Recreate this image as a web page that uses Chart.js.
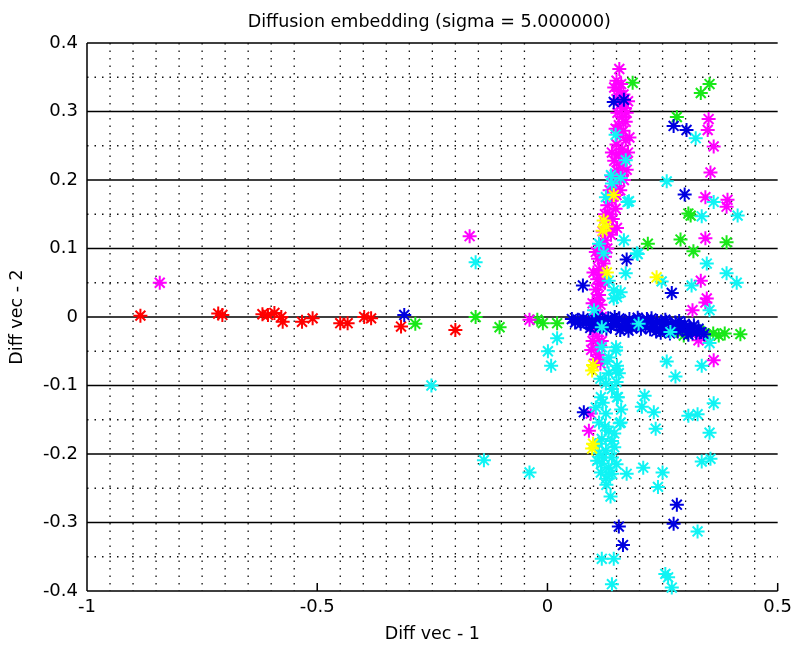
<!DOCTYPE html>
<html>
<head>
<meta charset="utf-8">
<script src="https://cdn.jsdelivr.net/npm/chart.js@4.4.1/dist/chart.umd.min.js"></script>
<style>
  html, body { margin: 0; padding: 0; background: #ffffff; }
  #c { display: block; }
</style>
</head>
<body>
<canvas id="c" width="798" height="652"></canvas>
<script>
// ---- Chart text ----
const chartTitle = 'Diffusion embedding (sigma = 5.000000)';
const xAxisTitle = 'Diff vec - 1';
const yAxisTitle = 'Diff vec - 2';

// ---- Ticks / grid ----
const xTickVals = [-1, -0.5, 0, 0.5];
const xTickLabels = ['-1', '-0.5', '0', '0.5'];
const yTickVals = [-0.4, -0.3, -0.2, -0.1, 0, 0.1, 0.2, 0.3, 0.4];
const yTickLabels = ['-0.4', '-0.3', '-0.2', '-0.1', '0', '0.1', '0.2', '0.3', '0.4'];
const xMinorGrid = [-0.95, -0.9, -0.85, -0.8, -0.75, -0.7, -0.65, -0.6, -0.55, -0.45, -0.4, -0.35, -0.3, -0.25, -0.2, -0.15, -0.1, -0.05, 0.05, 0.1, 0.15, 0.2, 0.25, 0.3, 0.35, 0.4, 0.45];
const yMinorGrid = [-0.35, -0.25, -0.15, -0.05, 0.05, 0.15, 0.25, 0.35];

// ---- Series (x, y) ----
const redPts = [
  [-0.884, 0.002], [-0.715, 0.005], [-0.706, 0.003], [-0.619, 0.004], [-0.607, 0.003], [-0.593, 0.006],
  [-0.578, 0.000], [-0.575, -0.007], [-0.533, -0.007], [-0.510, -0.002], [-0.450, -0.009], [-0.434, -0.009],
  [-0.398, 0.000], [-0.383, -0.002], [-0.318, -0.014], [-0.200, -0.019]
];

const greenPts = [
  [-0.287, -0.010], [-0.156, 0.000], [-0.104, -0.015], [-0.022, -0.004], [-0.010, -0.009], [0.021, -0.009],
  [0.185, 0.342], [0.352, 0.340], [0.333, 0.327], [0.281, 0.292], [0.306, 0.151], [0.311, 0.148],
  [0.289, 0.113], [0.389, 0.109], [0.317, 0.096], [0.218, 0.107],
  [0.280, -0.020], [0.296, -0.027], [0.312, -0.022], [0.330, -0.020], [0.345, -0.026], [0.360, -0.024],
  [0.372, -0.027], [0.385, -0.024], [0.419, -0.025]
];

const yellowPts = [
  [0.122, 0.141], [0.128, 0.132], [0.120, 0.126], [0.144, 0.178], [0.129, 0.065], [0.237, 0.058],
  [0.099, -0.070], [0.097, -0.078], [0.099, -0.185], [0.097, -0.192]
];

const magentaPts = [
  [0.156, 0.362], [0.150, 0.345], [0.160, 0.340], [0.145, 0.335], [0.155, 0.330], [0.165, 0.325], [0.150, 0.318],
  [0.175, 0.315], [0.158, 0.310], [0.168, 0.305], [0.152, 0.298], [0.172, 0.298], [0.162, 0.292], [0.170, 0.285],
  [0.155, 0.280], [0.148, 0.275], [0.165, 0.272], [0.158, 0.265], [0.178, 0.262], [0.170, 0.258], [0.150, 0.252],
  [0.162, 0.245], [0.175, 0.240], [0.140, 0.240], [0.155, 0.238], [0.168, 0.232], [0.145, 0.228], [0.158, 0.222],
  [0.172, 0.215], [0.150, 0.214], [0.162, 0.208], [0.140, 0.205], [0.166, 0.200], [0.152, 0.198], [0.145, 0.190],
  [0.158, 0.185], [0.135, 0.185], [0.150, 0.178], [0.140, 0.170], [0.130, 0.163], [0.148, 0.158], [0.135, 0.150],
  [0.125, 0.150], [0.142, 0.143], [0.151, 0.130], [0.140, 0.128], [0.128, 0.138], [0.120, 0.125], [0.138, 0.120],
  [0.125, 0.112], [0.115, 0.105], [0.130, 0.100], [0.105, 0.095], [0.118, 0.092], [0.125, 0.088], [0.110, 0.085],
  [0.122, 0.078], [0.112, 0.070], [0.100, 0.065], [0.118, 0.062], [0.108, 0.055], [0.125, 0.050], [0.115, 0.048],
  [0.105, 0.040], [0.112, 0.032], [0.108, 0.025], [0.098, 0.020], [0.115, 0.018], [0.105, 0.010], [0.110, 0.003],
  [0.118, 0.000], [0.102, -0.005], [0.095, -0.010], [0.112, -0.012], [0.100, -0.020], [0.108, -0.028],
  [0.098, -0.035], [0.118, -0.035], [0.110, -0.042], [0.095, -0.048], [0.112, -0.055], [0.105, -0.062],
  [0.115, -0.068],
  [0.094, -0.141], [0.090, -0.166],
  [-0.842, 0.050], [-0.169, 0.118], [-0.039, -0.004], [0.315, 0.010], [0.333, -0.029], [0.328, -0.034],
  [0.361, -0.063], [0.350, 0.289], [0.348, 0.273], [0.361, 0.249], [0.354, 0.211], [0.343, 0.175],
  [0.391, 0.171], [0.389, 0.161], [0.343, 0.115], [0.333, 0.053], [0.346, 0.027], [0.343, 0.021]
];

const bluePts = [
  [-0.311, 0.003], [0.144, 0.314], [0.166, 0.317], [0.274, 0.279], [0.302, 0.273], [0.298, 0.179],
  [0.172, 0.084], [0.077, 0.046], [0.270, 0.035], [0.079, -0.139], [0.281, -0.274], [0.274, -0.302],
  [0.155, -0.306], [0.164, -0.333],
  [0.053, -0.003], [0.060, -0.008], [0.066, -0.004], [0.072, -0.010], [0.078, -0.002], [0.084, -0.009],
  [0.090, -0.005], [0.096, -0.012], [0.102, -0.003], [0.108, -0.009], [0.114, -0.014], [0.120, -0.004],
  [0.126, -0.010], [0.132, -0.002], [0.138, -0.013], [0.144, -0.006], [0.150, -0.011], [0.156, -0.002],
  [0.162, -0.015], [0.167, -0.007], [0.172, -0.012], [0.178, -0.003], [0.183, -0.016], [0.188, -0.008],
  [0.193, -0.013], [0.198, -0.004], [0.203, -0.017], [0.208, -0.009], [0.213, -0.014], [0.218, -0.005],
  [0.223, -0.018], [0.228, -0.010], [0.233, -0.015], [0.238, -0.006], [0.243, -0.019], [0.248, -0.011],
  [0.253, -0.016], [0.258, -0.007], [0.263, -0.020], [0.268, -0.012], [0.273, -0.017], [0.278, -0.008],
  [0.283, -0.021], [0.288, -0.013], [0.293, -0.018], [0.298, -0.010], [0.303, -0.022], [0.308, -0.015],
  [0.313, -0.020], [0.318, -0.012], [0.323, -0.023], [0.328, -0.017], [0.334, -0.022], [0.340, -0.025],
  [0.093, -0.016], [0.128, -0.017], [0.158, -0.019], [0.176, -0.020], [0.196, -0.001], [0.216, -0.003],
  [0.236, -0.021], [0.256, -0.004], [0.286, -0.006], [0.306, -0.026], [0.146, 0.000], [0.110, 0.000],
  [0.226, -0.002], [0.266, -0.024], [0.246, -0.023]
];

const cyanPts = [
  [-0.156, 0.080], [-0.252, -0.100], [-0.138, -0.209], [-0.039, -0.227], [0.021, -0.031], [0.001, -0.050], [0.008, -0.071],
  [0.148, 0.266], [0.170, 0.229], [0.138, 0.207], [0.159, 0.203], [0.140, 0.195], [0.127, 0.175], [0.177, 0.169],
  [0.166, 0.112], [0.194, 0.093], [0.112, 0.107], [0.122, 0.093], [0.170, 0.064], [0.133, 0.053], [0.144, 0.039],
  [0.151, 0.029], [0.144, 0.027], [0.159, 0.036], [0.101, 0.010], [0.118, -0.015], [0.149, -0.044], [0.118, -0.044],
  [0.133, -0.059], [0.151, -0.071], [0.133, -0.082], [0.155, -0.082], [0.127, -0.097], [0.116, -0.117], [0.151, -0.117],
  [0.105, -0.132], [0.127, -0.141], [0.112, -0.154], [0.133, -0.166], [0.118, -0.178], [0.140, -0.181], [0.127, -0.195],
  [0.112, -0.199], [0.140, -0.205], [0.118, -0.214], [0.133, -0.220], [0.116, -0.227], [0.140, -0.229], [0.127, -0.236],
  [0.110, -0.185], [0.145, -0.190], [0.122, -0.205], [0.135, -0.230], [0.128, -0.245], [0.150, -0.215], [0.108, -0.210],
  [0.145, -0.170], [0.125, -0.160], [0.120, -0.125], [0.160, -0.135], [0.140, -0.105], [0.150, -0.095], [0.115, -0.090],
  [0.130, -0.065], [0.153, -0.117], [0.157, -0.155], [0.159, -0.154],
  [0.259, 0.198], [0.322, 0.261], [0.361, 0.168], [0.335, 0.147], [0.413, 0.148], [0.174, 0.168], [0.196, 0.092],
  [0.346, 0.078], [0.248, 0.052], [0.313, 0.046], [0.389, 0.064], [0.411, 0.050], [0.352, 0.010], [0.198, -0.010],
  [0.267, -0.022], [0.149, -0.049], [0.149, -0.078], [0.259, -0.065], [0.278, -0.087], [0.335, -0.071], [0.352, -0.038],
  [0.211, -0.115], [0.205, -0.131], [0.231, -0.139], [0.235, -0.163], [0.172, -0.229], [0.208, -0.220], [0.250, -0.227],
  [0.240, -0.248], [0.137, -0.262], [0.326, -0.313], [0.118, -0.353], [0.144, -0.353], [0.256, -0.375], [0.262, -0.380],
  [0.140, -0.390], [0.270, -0.395], [0.335, -0.211], [0.354, -0.207], [0.352, -0.169], [0.306, -0.144], [0.326, -0.142],
  [0.361, -0.126]
];

const FONT = '"DejaVu Sans", "Liberation Sans", Arial, sans-serif';

function toXY(list) { return list.map(p => ({ x: p[0], y: p[1] })); }

function ds(label, list, color, order) {
  return {
    label: label,
    data: toXY(list),
    pointStyle: 'star',
    pointRadius: 7,
    pointHoverRadius: 7,
    borderColor: color,
    backgroundColor: color,
    borderWidth: 2,
    showLine: false,
    clip: false,
    order: order
  };
}

const matlabPlugin = {
  id: 'matlabGrid',
  beforeDatasetsDraw(chart) {
    const { ctx, chartArea: a, scales: { x, y } } = chart;
    ctx.save();
    // dotted minor grid
    ctx.strokeStyle = '#111';
    ctx.lineWidth = 1.3;
    ctx.setLineDash([1.5, 6]);
    ctx.beginPath();
    xMinorGrid.forEach(v => {
      const px = x.getPixelForValue(v);
      ctx.moveTo(px, a.top); ctx.lineTo(px, a.bottom);
    });
    yMinorGrid.forEach(v => {
      const py = y.getPixelForValue(v);
      ctx.moveTo(a.left, py); ctx.lineTo(a.right, py);
    });
    ctx.stroke();
    // solid major lines
    ctx.setLineDash([]);
    ctx.strokeStyle = '#000';
    ctx.lineWidth = 1.5;
    ctx.beginPath();
    yTickVals.forEach(v => {
      const py = y.getPixelForValue(v);
      ctx.moveTo(a.left, py); ctx.lineTo(a.right, py);
    });
    ctx.moveTo(a.left, a.top); ctx.lineTo(a.left, a.bottom);
    xTickVals.forEach(v => {
      const px = x.getPixelForValue(v);
      ctx.moveTo(px, a.bottom); ctx.lineTo(px, a.bottom - 8);
    });
    ctx.stroke();
    ctx.restore();
  },
  afterDraw(chart) {
    const { ctx, chartArea: a } = chart;
    ctx.save();
    ctx.fillStyle = '#000';
    ctx.font = '17.5px ' + FONT;
    ctx.textAlign = 'center';
    ctx.textBaseline = 'alphabetic';
    ctx.fillText(chartTitle, (a.left + a.right) / 2 - 3, 27);
    ctx.restore();
  }
};

new Chart(document.getElementById('c'), {
  type: 'scatter',
  data: {
    datasets: [
      ds('yellow', yellowPts, '#ffff00', 1),
      ds('cyan', cyanPts, '#10f4f4', 2),
      ds('blue', bluePts, '#0000e0', 3),
      ds('magenta', magentaPts, '#ff00ff', 4),
      ds('green', greenPts, '#18e818', 5),
      ds('red', redPts, '#ff0000', 6)
    ]
  },
  options: {
    responsive: false,
    devicePixelRatio: 1,
    animation: false,
    layout: { padding: { top: 43, right: 18, left: 0, bottom: 0 } },
    plugins: {
      legend: { display: false },
      tooltip: { enabled: false },
      title: { display: false }
    },
    scales: {
      x: {
        type: 'linear',
        min: -1,
        max: 0.5,
        afterBuildTicks: s => { s.ticks = xTickVals.map(v => ({ value: v })); },
        afterFit: s => { s.height = 61; },
        grid: { display: false, drawTicks: false },
        border: { display: false },
        ticks: {
          autoSkip: false,
          maxRotation: 0,
          padding: 6,
          color: '#000',
          font: { family: FONT, size: 18 },
          callback: (v, i) => xTickLabels[i]
        },
        title: {
          display: true,
          text: xAxisTitle,
          color: '#000',
          font: { family: FONT, size: 17.5 },
          padding: { top: 0, bottom: 7 }
        }
      },
      y: {
        type: 'linear',
        min: -0.4,
        max: 0.4,
        afterBuildTicks: s => { s.ticks = yTickVals.map(v => ({ value: v })); },
        afterFit: s => { s.width = 87; },
        grid: { display: false, drawTicks: false },
        border: { display: false },
        ticks: {
          autoSkip: false,
          padding: 9,
          color: '#000',
          font: { family: FONT, size: 18 },
          callback: (v, i) => yTickLabels[i]
        },
        title: {
          display: true,
          text: yAxisTitle,
          color: '#000',
          font: { family: FONT, size: 17.5 },
          padding: { top: 7, bottom: 0 }
        }
      }
    }
  },
  plugins: [matlabPlugin]
});
</script>
</body>
</html>
